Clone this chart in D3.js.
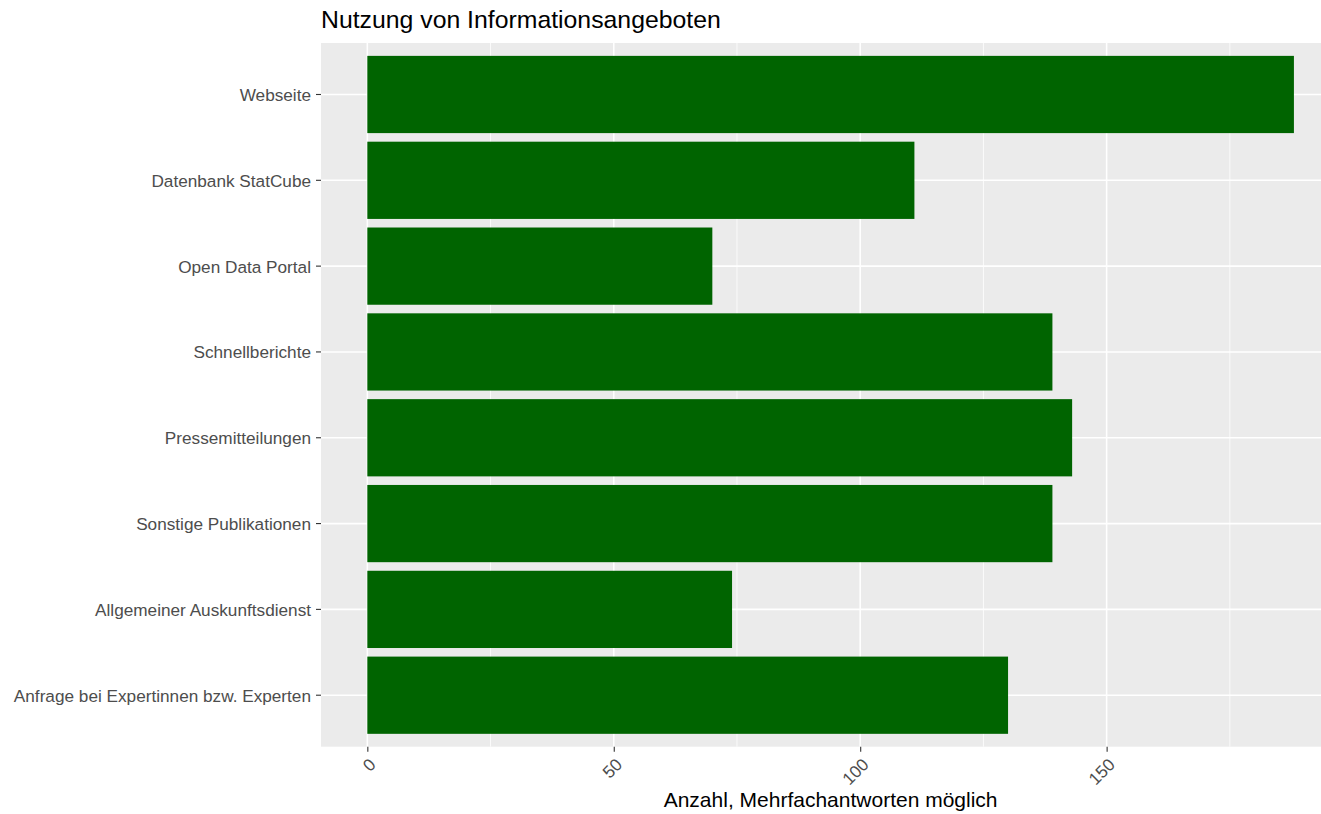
<!DOCTYPE html>
<html><head><meta charset="utf-8">
<script src="https://cdn.jsdelivr.net/npm/d3@7"></script>
<style>body{margin:0;overflow:hidden;background:#fff}svg{display:block}text{font-family:"Liberation Sans",Arial,sans-serif}</style>
</head><body>
<script>
const categories = ["Webseite","Datenbank StatCube","Open Data Portal","Schnellberichte","Pressemitteilungen","Sonstige Publikationen","Allgemeiner Auskunftsdienst","Anfrage bei Expertinnen bzw. Experten"];
const values = [188,111,70,139,143,139,74,130];
const xTicks = [0,50,100,150];
const xMinor = [25,75,125,175];
const title = "Nutzung von Informationsangeboten";
const xTitle = "Anzahl, Mehrfachantworten möglich";

const W=1321,H=814;
const L=321,T=43,B=746.7;
const svg=d3.select("body").append("svg").attr("width",W).attr("height",H);
const xmax=d3.max(values);
const x=d3.scaleLinear().domain([-0.05*xmax,1.05*xmax]).range([L,L+(1.1*xmax)*(1106.3-367)/150]);
const R=x.range()[1];
const step=(B-T)/8.2;
const y=d3.scaleBand().domain(categories).range([T+0.1*step,B-0.1*step]).paddingInner(0.1).paddingOuter(0.05);

svg.append("rect").attr("x",L).attr("y",T).attr("width",R-L).attr("height",B-T).attr("fill","#ebebeb");
const g=svg.append("g");
g.selectAll(".mn").data(xMinor).join("line").attr("x1",d=>x(d)).attr("x2",d=>x(d)).attr("y1",T).attr("y2",B).attr("stroke","#fff").attr("stroke-width",0.8);
g.selectAll(".mj").data(xTicks).join("line").attr("x1",d=>x(d)).attr("x2",d=>x(d)).attr("y1",T).attr("y2",B).attr("stroke","#fff").attr("stroke-width",1.6);
g.selectAll(".hy").data(categories).join("line").attr("x1",L).attr("x2",R).attr("y1",d=>y(d)+y.bandwidth()/2).attr("y2",d=>y(d)+y.bandwidth()/2).attr("stroke","#fff").attr("stroke-width",1.6);

svg.selectAll(".bar").data(categories).join("rect").attr("x",x(0)).attr("y",d=>y(d)).attr("height",y.bandwidth())
 .attr("width",(d,i)=>x(values[i])-x(0)).attr("fill","#006400");

// y axis
const ya=svg.append("g").attr("transform",`translate(${L},0)`).call(d3.axisLeft(y).tickSize(5).tickPadding(5));
ya.select(".domain").remove();
ya.selectAll(".tick line").attr("stroke","#333").attr("stroke-width",1.1);
ya.selectAll("text").attr("fill","#4d4d4d").style("font-size","17.2px").attr("dy","0.38em");

// x axis
const xa=svg.append("g").attr("transform",`translate(0,${B})`).call(d3.axisBottom(x).tickValues(xTicks).tickSize(5).tickFormat(d3.format("d")));
xa.select(".domain").remove();
xa.selectAll(".tick line").attr("stroke","#333").attr("stroke-width",1.1);
xa.selectAll("text").attr("fill","#4d4d4d").style("font-size","17.2px").attr("text-anchor","end")
 .attr("dy",null).attr("y",0).attr("transform","translate(9,19) rotate(-45)");

svg.append("text").attr("x",L).attr("y",28).text(title).style("font-size","24.8px").attr("fill","#000");
svg.append("text").attr("x",(L+R)/2).attr("y",807).attr("text-anchor","middle").text(xTitle).style("font-size","21px").attr("fill","#000");
</script>
</body></html>
